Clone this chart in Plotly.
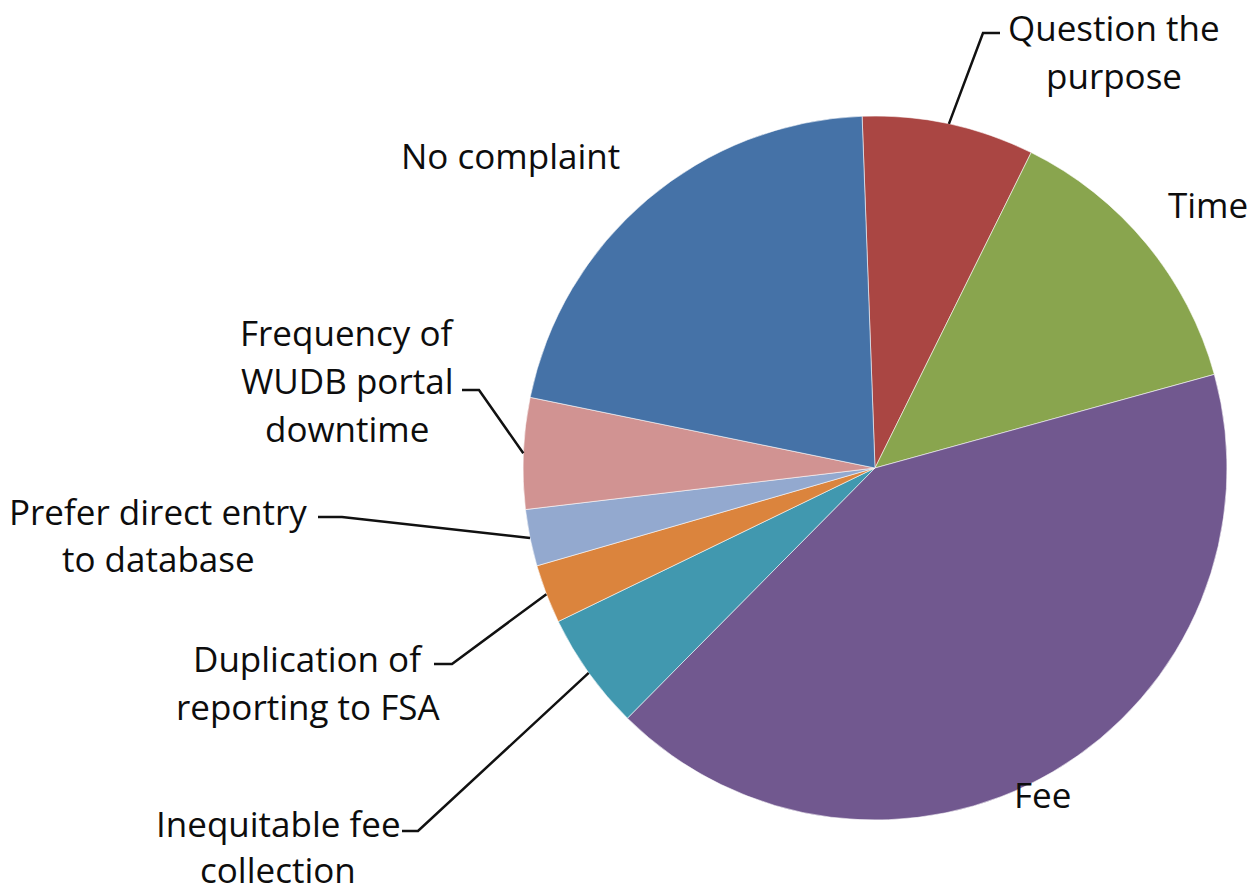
import math
import plotly.graph_objects as go

# ---- data (clockwise from 12 o'clock) ----
labels = ["Question the purpose", "Time", "Fee", "Inequitable fee collection",
          "Duplication of reporting to FSA", "Prefer direct entry to database",
          "Frequency of WUDB portal downtime", "No complaint"]
values = [7.9, 13.4, 41.7, 5.4, 2.7, 2.6, 5.1, 21.2]
colors = ["#AA4643", "#89A54E", "#71588F", "#4198AF",
          "#DB843D", "#93A9CF", "#D19392", "#4572A7"]
label_lines = [["Question the", "purpose"], ["Time"], ["Fee"],
               ["Inequitable fee", "collection"],
               ["Duplication of", "reporting to FSA"],
               ["Prefer direct entry", "to database"],
               ["Frequency of", "WUDB portal", "downtime"], ["No complaint"]]

W, H = 1254, 894
ROT = -2.1
CX, CY, R = 875, 468, 352  # pie centre / radius in px

FONT = dict(family="Open Sans, Lato, sans-serif", size=35, color="#0d0d0d")

fig = go.Figure(go.Pie(
    labels=labels, values=values, sort=False, direction="clockwise",
    rotation=ROT, textinfo="none", hoverinfo="label+percent",
    marker=dict(colors=colors, line=dict(color="rgba(255,255,255,0.55)", width=1)),
    domain=dict(x=[(CX - R) / W, (CX + R) / W],
                y=[(H - CY - R) / H, (H - CY + R) / H]),
    showlegend=False,
))

# mid angles of each slice computed from the data
tot = sum(values)
mids = []
acc = ROT
for v in values:
    a = v / tot * 360
    mids.append(acc + a / 2)
    acc += a


def edge(i):
    th = math.radians(mids[i])
    return CX + R * math.sin(th), CY - R * math.cos(th)


def px(x):
    return x / W


def py(y):
    return 1 - y / H

# label placement: anchor x, y of first line, line gap, leader bend points
label_pos = {
    0: dict(x=1114, y=27, gap=48, anchor="center", bend=[(983, 33), (1000, 33)]),
    1: dict(x=1208, y=204, gap=48, anchor="center", bend=None),
    2: dict(x=1042, y=794, gap=48, anchor="center", bend=None),
    3: dict(x=278, y=823, gap=46, anchor="center", bend=[(418, 831), (402, 831)]),
    4: dict(x=308, y=658, gap=48, anchor="center", bend=[(452, 664), (434, 664)]),
    5: dict(x=158, y=511, gap=47, anchor="center", bend=[(342, 517), (318, 517)]),
    6: dict(x=347, y=332, gap=48, anchor="center", bend=[(479, 390), (462, 390)]),
    7: dict(x=510, y=156, gap=48, anchor="center", bend=None),
}

annotations = []
shapes = []
for i, lines in enumerate(label_lines):
    lp = label_pos[i]
    for k, t in enumerate(lines):
        annotations.append(dict(
            text=t, x=px(lp["x"]), y=py(lp["y"] + k * lp["gap"]),
            xref="paper", yref="paper", xanchor=lp["anchor"], yanchor="middle",
            showarrow=False, font=FONT, borderpad=0))
    if lp["bend"]:
        ex, ey = edge(i)
        pts = [(ex, ey)] + lp["bend"]
        path = "M " + " L ".join(f"{px(a):.5f},{py(b):.5f}" for a, b in pts)
        shapes.append(dict(type="path", xref="paper", yref="paper", path=path,
                           line=dict(color="#111111", width=2.5)))

fig.update_layout(
    width=W, height=H, margin=dict(l=0, r=0, t=0, b=0),
    paper_bgcolor="white", plot_bgcolor="white",
    annotations=annotations, shapes=shapes,
)

fig.write_html(
    "out.html",
    config={"displayModeBar": False},
    post_script="document.body.style.margin='0';document.body.style.overflow='hidden';",
)
